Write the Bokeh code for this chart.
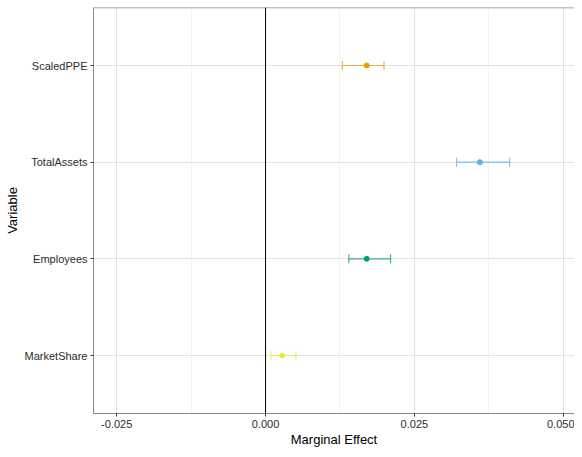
from bokeh.plotting import figure
from bokeh.models import (Range1d, FactorRange, Whisker, TeeHead, ColumnDataSource,
                          Span, FixedTicker)
from bokeh.embed import file_html
from bokeh.resources import INLINE

# Data
variables = ["MarketShare", "Employees", "TotalAssets", "ScaledPPE"]
estimates = [0.0028, 0.0170, 0.0360, 0.0170]
lower = [0.0009, 0.0140, 0.0321, 0.0129]
upper = [0.0051, 0.0210, 0.0410, 0.0199]
colors = ["#F0E442", "#009E73", "#56B4E9", "#E69F00"]
x_ticks = [-0.025, 0.0, 0.025, 0.05]
x_minor = [-0.0125, 0.0125, 0.0375]

src = ColumnDataSource(dict(var=variables, est=estimates, lo=lower, hi=upper, col=colors))

PAD = 0.1
p = figure(width=574, height=449, output_backend="svg", toolbar_location=None,
           x_range=Range1d(-0.0289, 0.0519),
           y_range=FactorRange(factors=variables, range_padding=PAD,
                               range_padding_units="absolute"),
           min_border_left=93, min_border_right=0, min_border_top=7,
           min_border_bottom=33)

p.background_fill_color = "white"
p.border_fill_color = "white"
p.outline_line_color = None

# grids
p.xgrid.ticker = FixedTicker(ticks=x_ticks, minor_ticks=x_minor)
p.xgrid.grid_line_color = "#e3e3e3"
p.xgrid.grid_line_width = 1
p.xgrid.minor_grid_line_color = "#f3f3f3"
p.ygrid.grid_line_color = "#e3e3e3"
p.ygrid.grid_line_width = 1

# axes
p.xaxis.ticker = FixedTicker(ticks=x_ticks)
p.xaxis.major_label_overrides = {-0.025: "-0.025", 0.0: "0.000", 0.025: "0.025", 0.05: "0.050"}
for ax in (p.xaxis[0], p.yaxis[0]):
    ax.axis_line_color = "#888888"
    ax.major_tick_line_color = "#333333"
    ax.major_tick_in = 0
    ax.major_tick_out = 3
    ax.minor_tick_line_color = None
    ax.major_label_text_font = "Liberation Sans"
    ax.major_label_text_font_size = "11px"
    ax.major_label_text_color = "#2b2b2b"
    ax.axis_label_text_font = "Liberation Sans"
    ax.axis_label_text_font_size = "13px"
    ax.axis_label_text_font_style = "normal"
    ax.axis_label_text_color = "#000000"
p.xaxis.axis_label = "Marginal Effect"
p.yaxis.axis_label = "Variable"
p.xaxis.major_label_standoff = 3
p.yaxis.major_label_standoff = 3
p.xaxis.axis_label_standoff = 1
p.yaxis.axis_label_standoff = 2

# top border
p.add_layout(Span(location=len(variables) + PAD, dimension="width",
                  line_color="#888888", line_width=1.5))

# zero line
p.add_layout(Span(location=0, dimension="height", line_color="black", line_width=1))

# error bars
wh = Whisker(base="var", lower="lo", upper="hi", dimension="width", source=src,
             line_color="col", line_alpha=0.75, line_width=1.2,
             lower_head=TeeHead(size=9, line_color="col", line_alpha=0.75, line_width=1.2),
             upper_head=TeeHead(size=9, line_color="col", line_alpha=0.75, line_width=1.2))
p.add_layout(wh)

p.scatter(x="est", y="var", source=src, size=5, fill_color="col", line_color="col")

open("out.html", "w").write(file_html(p, INLINE))
